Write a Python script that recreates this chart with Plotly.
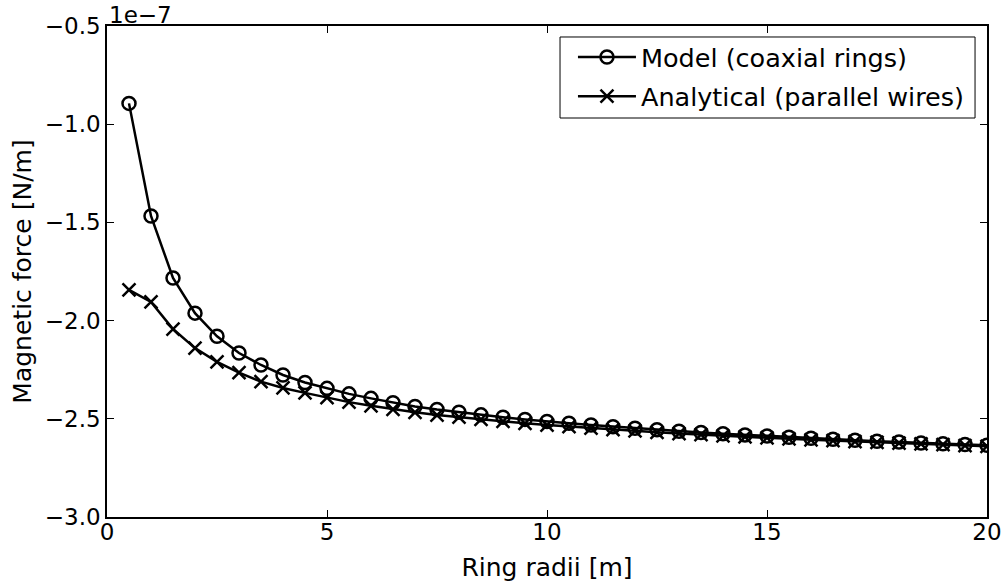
import plotly.graph_objects as go

radii = [0.5, 1.0, 1.5, 2.0, 2.5, 3.0, 3.5, 4.0, 4.5, 5.0, 5.5, 6.0, 6.5, 7.0, 7.5, 8.0,
         8.5, 9.0, 9.5, 10.0, 10.5, 11.0, 11.5, 12.0, 12.5, 13.0, 13.5, 14.0, 14.5, 15.0,
         15.5, 16.0, 16.5, 17.0, 17.5, 18.0, 18.5, 19.0, 19.5, 20.0]

# values in units of 1e-7 N/m
model = [-0.894, -1.467, -1.783, -1.962, -2.080, -2.165, -2.226, -2.277, -2.315, -2.345,
         -2.373, -2.396, -2.418, -2.437, -2.453, -2.467, -2.480, -2.492, -2.503, -2.514,
         -2.523, -2.532, -2.540, -2.548, -2.556, -2.563, -2.570, -2.576, -2.582, -2.588,
         -2.594, -2.599, -2.604, -2.609, -2.614, -2.618, -2.623, -2.627, -2.631, -2.635]

analytical = [-1.844, -1.905, -2.043, -2.140, -2.210, -2.265, -2.311, -2.343, -2.368, -2.392,
              -2.415, -2.434, -2.452, -2.467, -2.481, -2.492, -2.503, -2.513, -2.523, -2.532,
              -2.540, -2.548, -2.555, -2.562, -2.569, -2.575, -2.581, -2.587, -2.592, -2.597,
              -2.602, -2.607, -2.611, -2.616, -2.620, -2.624, -2.628, -2.632, -2.636, -2.640]

x_ticks = [0, 5, 10, 15, 20]
y_ticks = [-3.0, -2.5, -2.0, -1.5, -1.0, -0.5]
y_tick_text = ["\u22123.0", "\u22122.5", "\u22122.0", "\u22121.5", "\u22121.0", "\u22120.5"]

FONT = "DejaVu Sans"

fig = go.Figure()
fig.add_trace(go.Scatter(
    x=radii, y=model, mode="lines+markers", name="Model (coaxial rings)",
    legendgroup="a",
    line=dict(color="black", width=2.5),
    marker=dict(symbol="circle-open", size=13, color="black", line=dict(width=2.5, color="black")),
))
fig.add_trace(go.Scatter(
    x=radii, y=analytical, mode="lines+markers", name="Analytical (parallel wires)",
    legendgroup="b",
    line=dict(color="black", width=2.5),
    marker=dict(symbol="x-thin-open", size=13, color="black", line=dict(width=2.5, color="black")),
))

fig.update_layout(
    width=1005, height=588,
    margin=dict(l=107, r=18, t=26, b=71, autoexpand=False),
    paper_bgcolor="white", plot_bgcolor="white",
    font=dict(family=FONT, size=23, color="black"),
    showlegend=True,
    legend=dict(
        x=0.5295, y=0.9837, xanchor="left", yanchor="top",
        borderwidth=0, bgcolor="rgba(0,0,0,0)",
        font=dict(family=FONT, size=25.5, color="black"),
        tracegroupgap=3, itemsizing="trace", itemwidth=58,
    ),
    xaxis=dict(
        range=[0, 20], tickvals=x_ticks, ticktext=[str(v) for v in x_ticks],
        showgrid=False, zeroline=False, showline=True, linecolor="black", linewidth=1.5,
        mirror="ticks", ticks="inside", ticklen=7, tickcolor="black", automargin=False,
        ticklabelstandoff=-6,
        title=dict(text="Ring radii [m]", font=dict(family=FONT, size=25), standoff=14),
    ),
    yaxis=dict(
        range=[-3.0, -0.5], tickvals=y_ticks, ticktext=y_tick_text,
        showgrid=False, zeroline=False, showline=True, linecolor="black", linewidth=1.5,
        mirror="ticks", ticks="inside", ticklen=7, tickcolor="black", automargin=False,
        title=dict(text="Magnetic force [N/m]", font=dict(family=FONT, size=25), standoff=6),
    ),
    shapes=[dict(
        type="rect", xref="paper", yref="paper",
        x0=0.5148, x1=0.9864, y0=0.8126, y1=0.9776,
        line=dict(color="black", width=1), fillcolor="white", layer="below",
    )],
)

fig.add_annotation(
    text="1e\u22127", xref="paper", yref="paper", x=0, y=1.0,
    xanchor="left", yanchor="bottom", showarrow=False,
    font=dict(family=FONT, size=23, color="black"), yshift=-4,
)

fig.write_html("out.html")
